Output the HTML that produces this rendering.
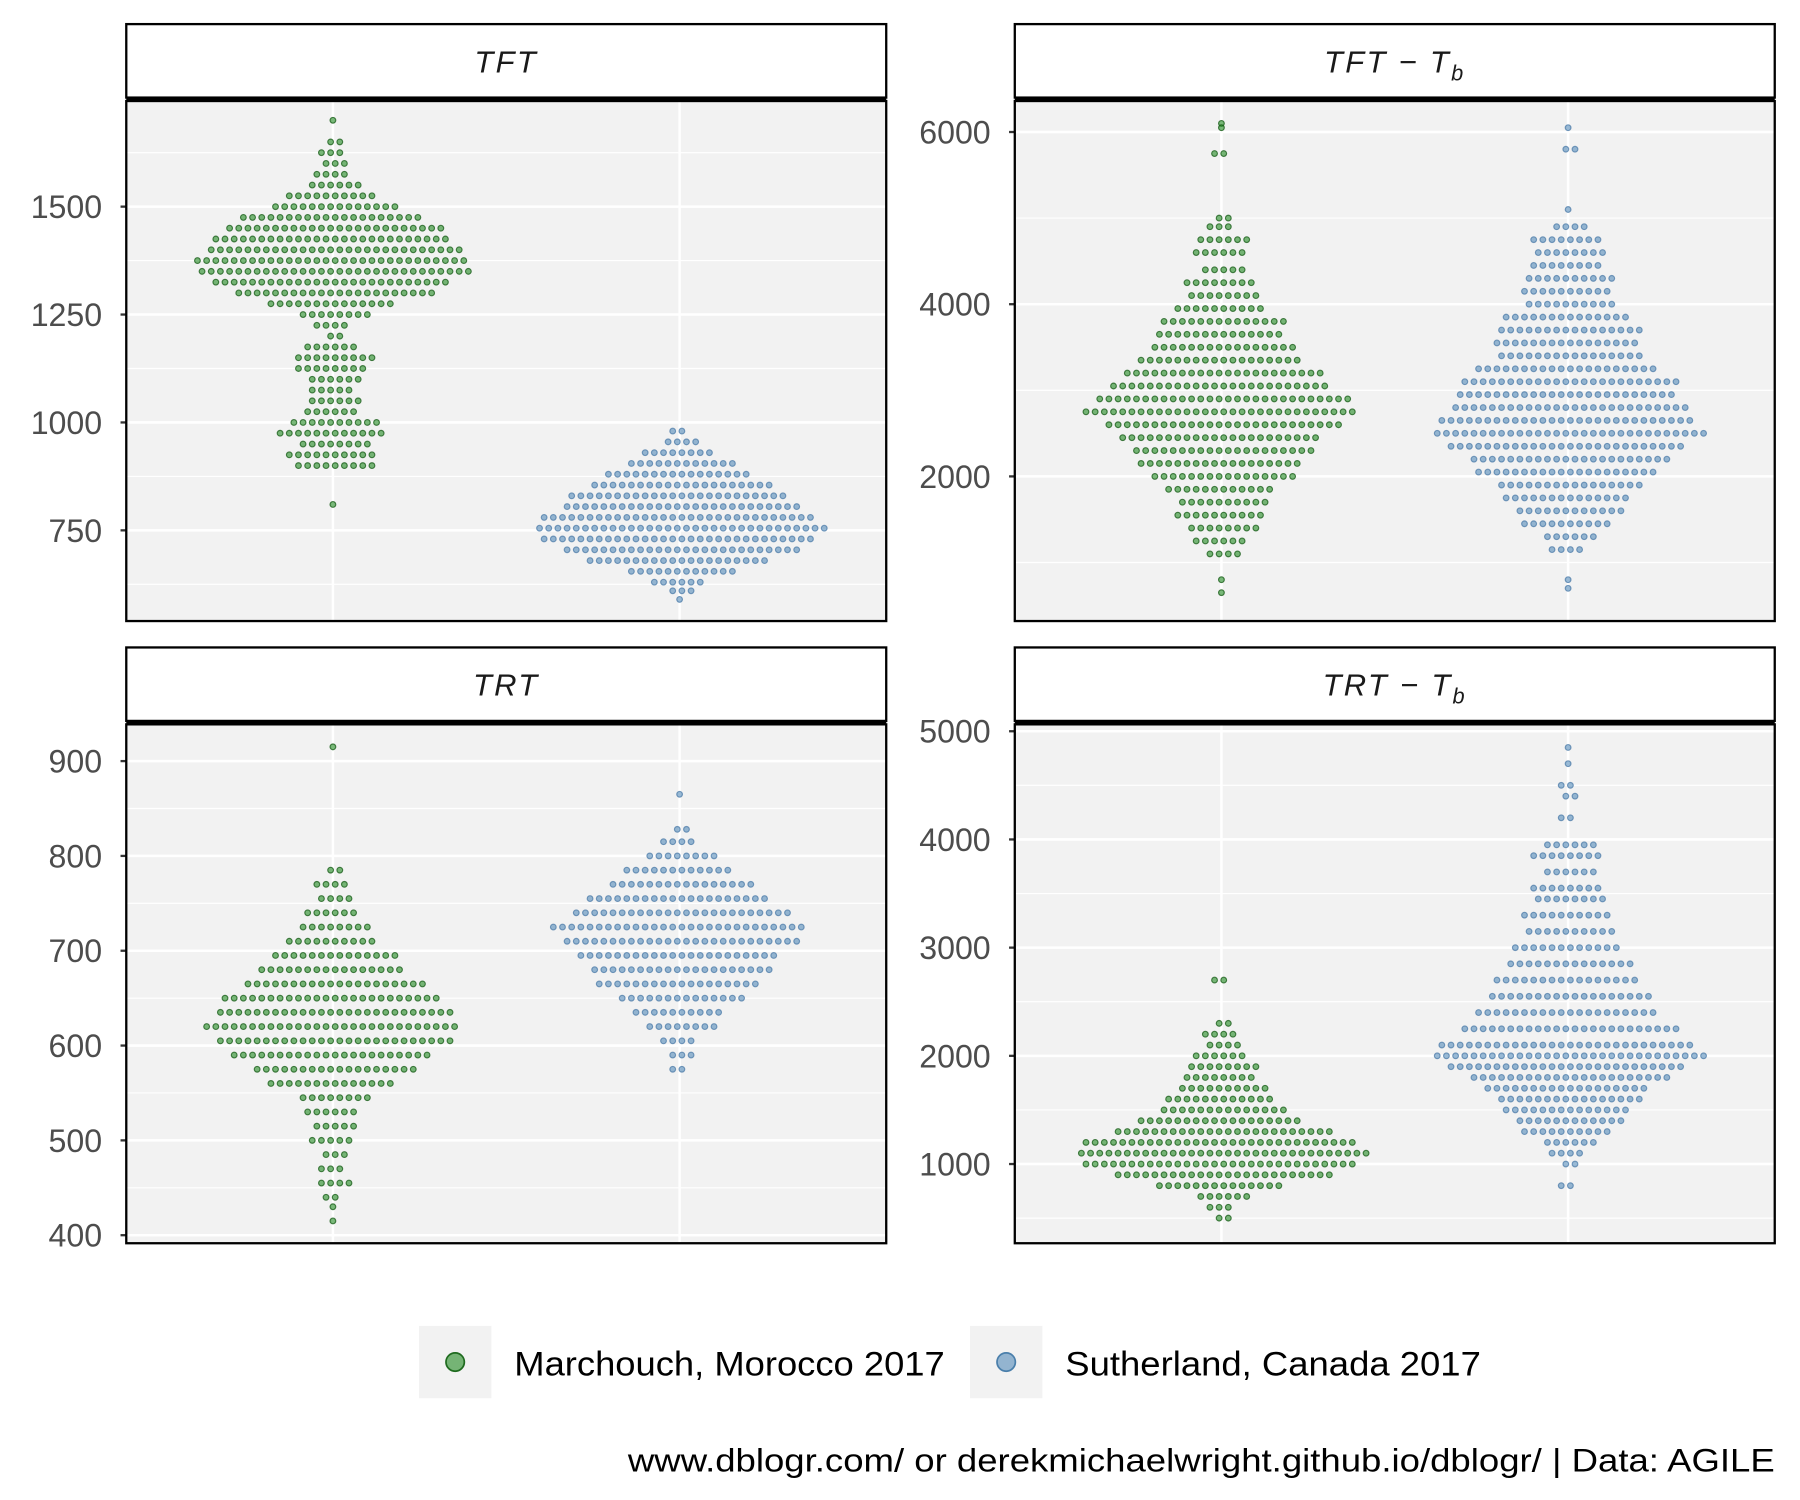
<!DOCTYPE html>
<html><head><meta charset="utf-8"><style>
html,body{margin:0;padding:0;background:#fff;}
svg{display:block;font-family:"Liberation Sans",Arial,sans-serif;}
</style></head><body>
<svg id="chart" width="1800" height="1500" viewBox="0 0 1568 1306.67" xmlns="http://www.w3.org/2000/svg">
<rect width="1568" height="1306.67" fill="#fff"/>
<g id="panels"></g>
<g>
  <rect x="365" y="1155" width="63" height="63" fill="#f2f2f2"/>
  <circle cx="396.5" cy="1186.5" r="8" fill="rgba(34,139,34,0.6)" stroke="#1f6b1f" stroke-width="1.5"/>
  <text x="448" y="1198" font-size="30" textLength="375" lengthAdjust="spacingAndGlyphs" fill="#000">Marchouch, Morocco 2017</text>
  <rect x="845" y="1155" width="63" height="63" fill="#f2f2f2"/>
  <circle cx="876.5" cy="1186.5" r="8" fill="rgba(70,130,180,0.55)" stroke="#4a7fab" stroke-width="1.5"/>
  <text x="928" y="1198" font-size="30" textLength="362" lengthAdjust="spacingAndGlyphs" fill="#000">Sutherland, Canada 2017</text>
</g>
<text x="547" y="1282" font-size="28" textLength="999" lengthAdjust="spacingAndGlyphs" fill="#000">www.dblogr.com/ or derekmichaelwright.github.io/dblogr/ | Data: AGILE</text>
</svg>
<script>
// Row values and dot counts per row (beeswarm rows)
const tftGreenVals=[1700,1650,1625,1600,1575,1550,1525,1500,1475,1450,1425,1400,1375,1350,1325,1300,1275,1250,1225,1200,1175,1150,1125,1100,1075,1050,1025,1000,975,950,925,900,810];
const tftGreenN=[1,2,3,3,4,6,10,14,20,24,26,28,30,30,26,22,14,8,4,2,6,9,8,6,5,6,6,10,12,8,10,9,1];
const tftBlueVals=[980,955,930,905,880,855,830,805,780,755,730,705,680,655,630,610,590];
const tftBlueN=[2,4,8,12,16,20,24,26,30,32,30,26,20,12,6,3,1];
const tftbGreenVals=[6100,6050,5750,5000,4900,4750,4600,4400,4250,4100,3950,3800,3650,3500,3350,3200,3050,2900,2750,2600,2450,2300,2150,2000,1850,1700,1550,1400,1250,1100,800,650];
const tftbGreenN=[1,1,2,2,3,6,6,5,8,8,10,14,14,16,18,22,24,28,30,26,22,20,18,16,12,10,10,8,6,4,1,1];
const tftbBlueVals=[6050,5800,5100,4900,4750,4600,4450,4300,4150,4000,3850,3700,3550,3400,3250,3100,2950,2800,2650,2500,2350,2200,2050,1900,1750,1600,1450,1300,1150,800,700];
const tftbBlueN=[1,2,1,4,8,8,8,10,10,10,14,16,16,16,20,24,24,26,28,30,26,22,20,16,14,12,10,6,4,1,1];
const trtGreenVals=[915,785,770,755,740,725,710,695,680,665,650,635,620,605,590,575,560,545,530,515,500,485,470,455,440,430,415];
const trtGreenN=[1,2,4,4,6,8,10,14,16,20,24,26,28,26,22,18,14,8,6,5,5,3,3,4,2,1,1];
const trtBlueVals=[865,828,815,800,785,770,755,740,725,710,695,680,665,650,635,620,605,590,575];
const trtBlueN=[1,2,4,8,12,16,20,24,28,26,22,20,18,14,10,8,4,3,2];
const trtbGreenVals=[2700,2300,2200,2100,2000,1900,1800,1700,1600,1500,1400,1300,1200,1100,1000,900,800,700,600,500];
const trtbGreenN=[2,2,4,4,6,8,8,10,12,14,18,24,30,32,30,24,14,6,3,2];
const trtbBlueVals=[4850,4700,4500,4400,4200,3950,3850,3700,3550,3450,3300,3150,3000,2850,2700,2550,2400,2250,2100,2000,1900,1800,1700,1600,1500,1400,1300,1200,1100,1000,800];
const trtbBlueN=[1,1,2,2,2,6,8,6,8,8,10,10,12,14,16,18,20,24,28,30,26,22,18,16,14,12,10,6,4,2,2];
const tftTicks=[750,1000,1250,1500], tftMinor=[625,875,1125,1375,1625];
const tftbTicks=[2000,4000,6000], tftbMinor=[1000,3000,5000];
const trtTicks=[400,500,600,700,800,900], trtMinor=[450,550,650,750,850];
const trtbTicks=[1000,2000,3000,4000,5000], trtbMinor=[500,1500,2500,3500,4500];

const NS="http://www.w3.org/2000/svg";
const root=document.getElementById('panels');
function mk(tag,attrs,parent){const e=document.createElementNS(NS,tag);for(const k in attrs)e.setAttribute(k,attrs[k]);parent.appendChild(e);return e;}
function linScale(v1,p1,v2,p2){return v=>p1+(v-v1)*(p2-p1)/(v2-v1);}

const panels=[
 {name:'tft',title:'TFT',sub:false,tl:62,x:110,top:21,y0:88,y1:541,scale:linScale(750,462,1500,180),ticks:tftTicks,minor:tftMinor,
  g:[tftGreenVals,tftGreenN],b:[tftBlueVals,tftBlueN]},
 {name:'tft-tb',title:'TFT − T',sub:true,tl:130,x:884,top:21,y0:88,y1:541,scale:linScale(2000,415,6000,115),ticks:tftbTicks,minor:tftbMinor,
  g:[tftbGreenVals,tftbGreenN],b:[tftbBlueVals,tftbBlueN]},
 {name:'trt',title:'TRT',sub:false,tl:66,x:110,top:564,y0:631,y1:1083,scale:linScale(400,1076,900,663),ticks:trtTicks,minor:trtMinor,
  g:[trtGreenVals,trtGreenN],b:[trtBlueVals,trtBlueN]},
 {name:'trt-tb',title:'TRT − T',sub:true,tl:130,x:884,top:564,y0:631,y1:1083,scale:linScale(1000,1014,5000,637),ticks:trtbTicks,minor:trtbMinor,
  g:[trtbGreenVals,trtbGreenN],b:[trtbBlueVals,trtbBlueN]}
];
const W=662, SP=8;
panels.forEach(p=>{
  const g=mk('g',{},root);
  
  
  const cg=p.x+180, cb=p.x+482;
  const bg=mk('rect',{x:p.x,y:p.y0,width:W,height:p.y1-p.y0,fill:'#f2f2f2'},g);
  
  
  p.minor.forEach(v=>{const y=p.scale(v);if(y>p.y0&&y<p.y1)mk('line',{x1:p.x,x2:p.x+W,y1:y,y2:y,stroke:'#fff','stroke-width':1},g);});
  p.ticks.forEach(v=>{const y=p.scale(v);
    const l=mk('line',{x1:p.x,x2:p.x+W,y1:y,y2:y,stroke:'#fff','stroke-width':2.2},g);
    
    
    mk('line',{x1:p.x-5,x2:p.x,y1:y,y2:y,stroke:'#333','stroke-width':2},g);
    const t=mk('text',{x:p.x-21,y:y+10,'font-size':28,'text-anchor':'end',fill:'#4d4d4d'},g);
    t.textContent=v;
    
    
  });
  [cg,cb].forEach(cx=>mk('line',{x1:cx,x2:cx,y1:p.y0,y2:p.y1,stroke:'#fff','stroke-width':2.2},g));
  const draw=(arr,cx,fill,stroke,nm)=>{
    const sg=mk('g',{},g);
    
    
    const vals=arr[0], ns=arr[1];
    vals.forEach((v,i)=>{const y=p.scale(v);const n=ns[i];const off=(i%2)?SP/4:-SP/4;
      for(let k=0;k<n;k++){const c=mk('circle',{cx:cx+off*(n>1?1:0)+(k-(n-1)/2)*SP,cy:y,r:2.5,fill:fill,stroke:stroke,'stroke-width':1},sg);
        
        }
    });
  };
  draw(p.g,cg,'rgba(34,139,34,0.6)','rgba(20,90,20,0.75)','morocco');
  draw(p.b,cb,'rgba(70,130,180,0.55)','rgba(60,110,160,0.65)','canada');
  mk('rect',{x:p.x,y:p.y0,width:W,height:p.y1-p.y0,fill:'none',stroke:'#000','stroke-width':2},g);
  mk('rect',{x:p.x,y:p.top,width:W,height:p.y0-p.top-3,fill:'#fff',stroke:'#000','stroke-width':2},g);
  mk('line',{x1:p.x,x2:p.x+W,y1:p.y0-2,y2:p.y0-2,stroke:'#000','stroke-width':3},g);
  const st=mk('text',{x:p.x+W/2,y:p.top+42,'font-size':27,'text-anchor':'middle','font-style':'italic',fill:'#1a1a1a','letter-spacing':'2'},g);
  
  
  st.textContent=p.title;
  if(p.sub){const s=mk('tspan',{'font-size':19,dy:7},st);s.textContent='b';}
});
</script>
</body></html>
